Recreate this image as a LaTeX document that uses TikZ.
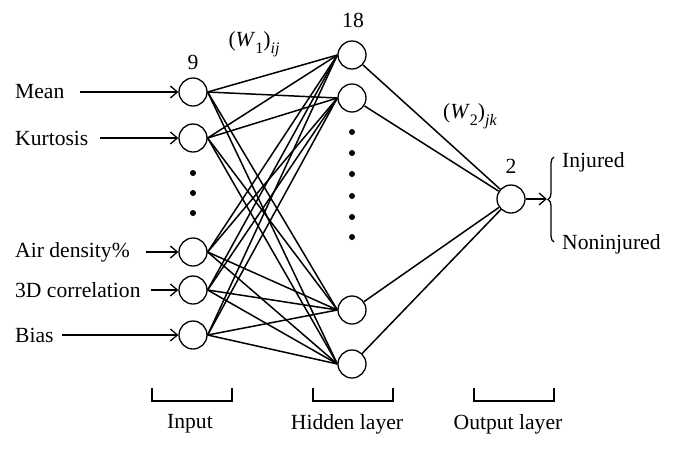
\documentclass[tikz,border=0pt]{standalone}
\usepackage{fontspec}
\setmainfont{Liberation Serif}
\usetikzlibrary{arrows.meta,decorations.pathreplacing}
\newcommand{\mysub}[1]{\raisebox{-0.3em}{\fontsize{16}{18}\selectfont #1}}
\begin{document}
\begin{tikzpicture}[x=1pt,y=-1pt,
  every node/.style={font=\fontsize{21.6}{25}\selectfont},
  neuron/.style={draw,circle,minimum size=28pt,inner sep=0pt,line width=1.3pt},
  txt/.style={inner sep=0pt},
  conn/.style={line width=1.5pt},
  inarrow/.style={line width=1.4pt,-{Straight Barb[length=7pt,width=12pt,line width=1.3pt]}},
  bracket/.style={line width=1.4pt},
  dotmark/.style={fill=black,circle,inner sep=0pt,minimum size=6pt}]
\useasboundingbox (0,0) rectangle (680,448);
% input neurons
\node[neuron] (i1) at (193,92) {};
\node[neuron] (i2) at (193,138) {};
\node[neuron] (i3) at (193,252) {};
\node[neuron] (i4) at (193,290) {};
\node[neuron] (i5) at (193,335) {};
% hidden neurons
\node[neuron] (h1) at (352,55) {};
\node[neuron] (h2) at (352,98) {};
\node[neuron] (h3) at (352,310) {};
\node[neuron] (h4) at (352,364) {};
% output neuron
\node[neuron] (o) at (511,199) {};
% dots
\foreach \y [count=\k] in {173,193,213} \node[dotmark] (di\k) at (193,\y) {};
\foreach \y [count=\k] in {132,153,174,196,217,237} \node[dotmark] (dh\k) at (352,\y) {};
% connections input -> hidden
\foreach \i in {1,...,5}
  \foreach \h in {1,...,4}
    \draw[conn] (i\i.east) -- (h\h.west);
% hidden -> output
\foreach \h in {1,...,4}
  \draw[conn] (h\h) -- (o);
% counts and weights
\node[txt] (n9) at (193,62) {9};
\node[txt] (n18) at (353,20) {18};
\node[txt] (n2) at (511,166) {2};
\node[txt] (w1) at (254,44) {(\textit{W}\mysub{1})\mysub{\textit{ij}}};
\node[txt] (w2) at (470,116) {(\textit{W}\mysub{2})\mysub{\textit{jk}}};
% input labels
\node[txt,anchor=west] (l1) at (15,92) {Mean};
\node[txt,anchor=west] (l2) at (15,138) {Kurtosis};
\node[txt,anchor=west] (l3) at (15,252) {Air density\%};
\node[txt,anchor=west] (l4) at (15,290) {3D correlation};
\node[txt,anchor=west] (l5) at (15,335) {Bias};
\coordinate (s1) at (80,92);
\coordinate (s2) at (100,138);
\coordinate (s3) at (146,252);
\coordinate (s4) at (151,290);
\coordinate (s5) at (62,335);
\foreach \k in {1,...,5} \draw[inarrow] (s\k) -- (i\k.west);
% output arrow and brace
\coordinate (bt) at (547,199);
\draw[inarrow] (o.east) -- (bt);
\draw[line width=1.3pt,decorate,decoration={brace,amplitude=6pt}] (554,242) -- (554,157);
\node[txt,anchor=west] (inj) at (562,162) {Injured};
\node[txt,anchor=west] (non) at (562,244) {Noninjured};
% brackets
\draw[bracket] (152,388) -- (152,401) -- (232,401) -- (232,388);
\draw[bracket] (313,388) -- (313,401) -- (393,401) -- (393,388);
\draw[bracket] (474,388) -- (474,401) -- (554,401) -- (554,388);
\node[txt] (lin) at (190,424) {Input};
\node[txt] (lhid) at (347,424) {Hidden layer};
\node[txt] (lout) at (508,424) {Output layer};
\end{tikzpicture}
\end{document}
